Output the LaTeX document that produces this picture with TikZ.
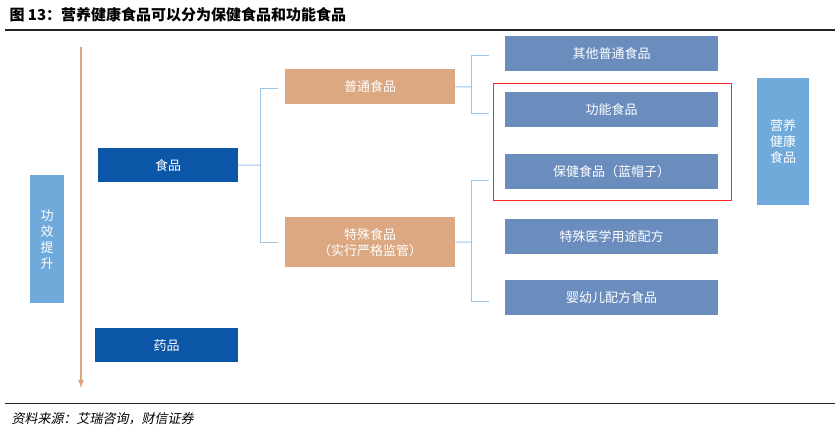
\documentclass[tikz,border=0pt]{standalone}
\usepackage{fontspec}
\newfontfamily\cjk{Noto Sans CJK SC}
\newfontfamily\cjksl{Noto Sans CJK SC}[FakeSlant=0.2]
\begin{document}
\begin{tikzpicture}[x=1pt,y=-1pt,
 every node/.style={font=\cjk\fontsize{13}{16}\selectfont},
 dk/.style={draw=none,fill=dkb,text=white,minimum width=140pt,minimum height=34pt,anchor=north west},
 tn/.style={fill=tanc,text=white,minimum width=170pt,anchor=north west,align=center},
 md/.style={fill=mdb,text=white,minimum width=213pt,minimum height=35pt,anchor=north west},
 lb/.style={fill=ltb,text=white,anchor=north west,align=center},
 br/.style={draw=brc,line width=1pt}]
\definecolor{dkb}{HTML}{0B56A6}
\definecolor{tanc}{HTML}{DBA882}
\definecolor{mdb}{HTML}{6A8DBE}
\definecolor{ltb}{HTML}{6FAADB}
\definecolor{brc}{HTML}{9DC3E6}
\useasboundingbox (0,0) rectangle (840,434);
\node[anchor=west,font=\cjk\bfseries\fontsize{15}{18}\selectfont] (t) at (6,15) {图 13：营养健康食品可以分为保健食品和功能食品};
\draw[line width=1.2pt,black!85] (5,30) -- (835,30);
\draw[line width=1pt,black!85] (5,403) -- (835,403);
\node[anchor=west,font=\cjksl\fontsize{13}{16}\selectfont] (s) at (8,419) {资料来源：艾瑞咨询，财信证券};
\coordinate (a1) at (81,47); \coordinate (a2) at (81,388);
\draw[tanc,line width=1.8pt,-latex] (a1) -- (a2);
\node[lb,minimum width=34pt,minimum height=128pt] (gx) at (30,175) {功\\效\\提\\升};
\node[dk] (sp) at (98,148) {食品};
\node[dk,minimum width=143pt] (yp) at (95,328) {药品};
\node[tn,minimum height=35pt] (pt) at (285,69) {普通食品};
\node[tn,minimum height=50pt] (ts) at (285,217) {特殊食品\\（实行严格监管）};
\node[md] (r1) at (505,36) {其他普通食品};
\node[md] (r2) at (505,92) {功能食品};
\node[md] (r3) at (505,154) {保健食品（蓝帽子）};
\node[md] (r4) at (505,219) {特殊医学用途配方};
\node[md] (r5) at (505,280) {婴幼儿配方食品};
\node[draw=red!85,line width=1.3pt,minimum width=238pt,minimum height=117pt,anchor=north west] (rb) at (493,83) {};
\node[lb,minimum width=52pt,minimum height=127pt] (yy) at (757,78) {营养\\健康\\食品};
\draw[br] (sp.east) -- (260,165);
\draw[br] (278,88) -- (260,88) -- (260,242) -- (278,242);
\draw[br] (pt.east) -- (471,87);
\draw[br] (489,55) -- (471,55) -- (471,113) -- (489,113);
\draw[br] (ts.east) -- (471,242);
\draw[br] (489,180) -- (471,180) -- (471,301) -- (489,301);
\end{tikzpicture}
\end{document}
